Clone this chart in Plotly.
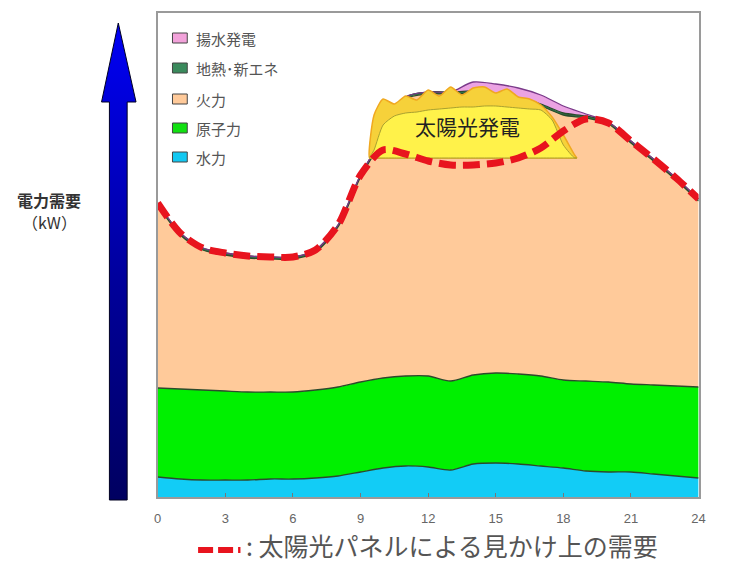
import plotly.graph_objects as go

# ---------------- data (arbitrary demand units) ----------------
hours = list(range(25))
water = [20, 18, 17, 17, 17, 18, 18, 19, 21, 25, 29, 31, 30, 27, 33, 34, 33, 31, 29, 26, 25, 25, 23, 21, 19]
nuclear = [89, 90, 90, 89, 88, 87, 87, 88, 89, 90, 90, 90, 91, 89, 89, 90, 90, 90, 88, 90, 90, 88, 89, 90, 91]
thermal = [183, 154, 140, 136, 134, 133, 133, 138, 160, 205, 239, 277, 282, 287, 282, 277, 274, 270, 265, 263, 258, 241, 224, 206, 186]
geo_new = [2] * 25
pumped = [0] * 14 + [9, 10, 10, 9, 7, 2] + [0] * 5
apparent_demand = [294, 264, 249, 244, 241, 240, 240, 247, 272, 322, 347, 343, 336, 332, 332, 334,
                   339, 349, 366, 378, 374, 356, 338, 319, 298]

solar_hours = [9.4, 9.6, 10, 10.5, 11, 11.5, 12, 12.5, 13, 13.5, 14, 14.5, 15, 15.5, 16, 16.5, 17, 17.5, 18, 18.5, 18.6]
solar_base = [339] * 21
solar_outer = [339, 382, 398, 393, 401, 397, 407, 401, 410, 402, 409, 410, 404, 408, 400, 398, 392, 380, 362, 342, 339]
solar_inner = [339, 347, 372, 381, 384, 385, 387, 388, 389, 390, 390, 391, 391, 390, 389, 388, 387, 377, 352, 339, 339]

x_ticks = [0, 3, 6, 9, 12, 15, 18, 21, 24]
legend_names = ["揚水発電", "地熱･新エネ", "火力", "原子力", "水力"]
legend_colors = ["#F2A2DA", "#3A8A5C", "#FFCA9A", "#11E011", "#12C8F2"]

# ---------------- figure ----------------
W, H = 745, 567
FONT = "Noto Sans CJK JP"
fig = go.Figure()

layers = [
    ("水力", water, "#12CCF6"),
    ("原子力", nuclear, "#00F000"),
    ("火力", thermal, "#FFCA9A"),
    ("地熱･新エネ", geo_new, "#2F7F50"),
    ("揚水発電", pumped, "#EBA3E3"),
]
for name, vals, col in layers:
    fig.add_trace(go.Scatter(
        x=hours, y=vals, name=name, stackgroup="gen", mode="lines",
        line=dict(color="#2C4A2C" if name != "揚水発電" else "#7A3A8A", width=1.3,
                  shape="spline", smoothing=0.8),
        fillcolor=col, showlegend=False, hoverinfo="skip"))

# solar blob (outer gold band and inner yellow)
fig.add_trace(go.Scatter(
    x=solar_hours + solar_hours[::-1], y=solar_outer + solar_base[::-1],
    fill="toself", fillcolor="#F6D13A", mode="lines",
    line=dict(color="#F0A820", width=1.5, shape="spline", smoothing=0.6),
    showlegend=False, hoverinfo="skip"))
fig.add_trace(go.Scatter(
    x=solar_hours + solar_hours[::-1], y=solar_inner + solar_base[::-1],
    fill="toself", fillcolor="#FFF24A", mode="lines",
    line=dict(color="#A8A030", width=1, shape="spline", smoothing=0.6),
    showlegend=False, hoverinfo="skip"))

# apparent demand (red dashed)
fig.add_trace(go.Scatter(
    x=hours, y=apparent_demand, mode="lines",
    line=dict(color="#E8141E", width=7, dash="17px,7px", shape="spline", smoothing=0.8),
    showlegend=False, hoverinfo="skip"))

# ---------------- overlay (pixel) subplot for decorations ----------------
# big gradient arrow
arrow_x = [116, 134, 125, 125, 107, 107, 99, 116]
arrow_py = [23, 102, 102, 500, 500, 102, 102, 23]
fig.add_trace(go.Scatter(
    x=arrow_x, y=[H - p for p in arrow_py], xaxis="x2", yaxis="y2",
    fill="toself", mode="lines", line=dict(color="#000020", width=1),
    fillgradient=dict(type="vertical", start=H - 500, stop=H - 23,
                      colorscale=[[0, "#000060"], [0.45, "#00009A"], [1, "#0000F5"]]),
    showlegend=False, hoverinfo="skip"))

# caption dashes
fig.add_trace(go.Scatter(
    x=[197, 240], y=[H - 550, H - 550], xaxis="x2", yaxis="y2", mode="lines",
    line=dict(color="#E8141E", width=6, dash="15px,5px"),
    showlegend=False, hoverinfo="skip"))

annotations = [
    dict(x=470, y=H - 126, text="太陽光発電", font=dict(size=21, color="#222", family=FONT)),
    dict(x=46, y=H - 200, text="<b>電力需要</b>", font=dict(size=16, color="#333", family=FONT)),
    dict(x=46, y=H - 222, text="（kW）", font=dict(size=16, color="#333", family=FONT)),
    dict(x=244, y=2, text=": 太陽光パネルによる見かけ上の需要", xanchor="left", yanchor="bottom",
         font=dict(size=25, color="#555", family=FONT)),
]
shapes = []
leg_y = [38, 68, 99, 128, 157]
for name, col, cy in zip(legend_names, legend_colors, leg_y):
    shapes.append(dict(type="rect", xref="x2", yref="y2", x0=171, x1=186,
                       y0=H - cy - 5, y1=H - cy + 5, fillcolor=col,
                       line=dict(color="#444", width=1)))
    annotations.append(dict(x=193, y=H - cy, text=name, xanchor="left",
                            font=dict(size=15, color="#555", family=FONT)))
for a in annotations:
    a.setdefault("xanchor", "center")
    a.setdefault("yanchor", "middle")
    a.update(xref="x2", yref="y2", showarrow=False)

fig.update_layout(
    width=W, height=H, margin=dict(l=0, r=0, t=0, b=0),
    paper_bgcolor="white", plot_bgcolor="rgba(0,0,0,0)",
    font=dict(family=FONT),
    xaxis=dict(domain=[156 / W, 705 / W], range=[0, 24], tickvals=x_ticks,
               ticks="inside", ticklen=4, tickcolor="#777", showline=True, mirror=True,
               linecolor="#9A9A9A", linewidth=1.5, showgrid=False, zeroline=False,
               ticklabelstandoff=9, tickfont=dict(size=13, color="#666", family="Liberation Sans")),
    yaxis=dict(domain=[(H - 497) / H, (H - 13) / H], range=[0, 484], showticklabels=False,
               ticks="", showline=True, mirror=True, linecolor="#9A9A9A", linewidth=1.5,
               showgrid=False, zeroline=False),
    xaxis2=dict(domain=[0, 1], range=[0, W], anchor="y2", visible=False, fixedrange=True),
    yaxis2=dict(domain=[0, 1], range=[0, H], anchor="x2", visible=False, fixedrange=True),
    annotations=annotations, shapes=shapes, showlegend=False,
)

fig.write_html("out.html")
